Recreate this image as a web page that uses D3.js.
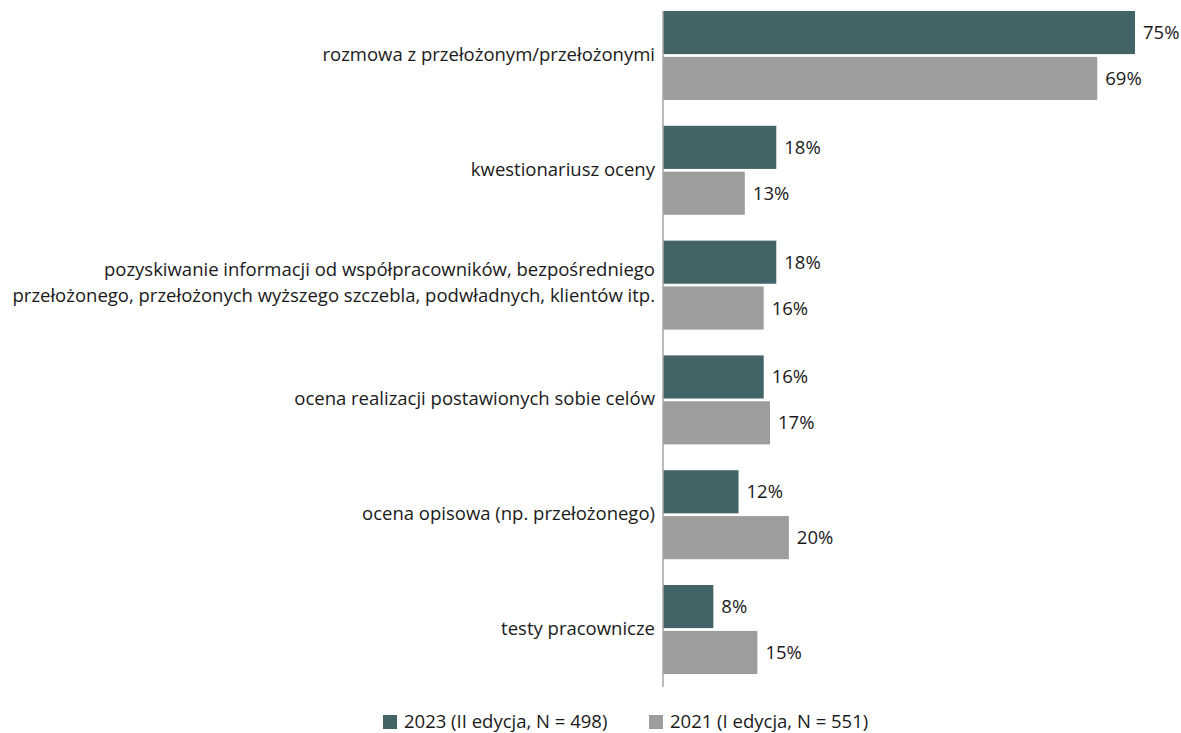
<!DOCTYPE html>
<html>
<head>
<meta charset="utf-8">
<script src="https://cdn.jsdelivr.net/npm/d3@7"></script>
<style>
  body { margin: 0; background: #fff; }
  text { font-family: "Open Sans", sans-serif; fill: #1a1a1a; }
</style>
</head>
<body>
<script>
// Data
const categories = [
  ['rozmowa z przełożonym/przełożonymi'],
  ['kwestionariusz oceny'],
  ['pozyskiwanie informacji od współpracowników, bezpośredniego', 'przełożonego, przełożonych wyższego szczebla, podwładnych, klientów itp.'],
  ['ocena realizacji postawionych sobie celów'],
  ['ocena opisowa (np. przełożonego)'],
  ['testy pracownicze']
]
const seriesNames = ['2023 (II edycja, N = 498)', '2021 (I edycja, N = 551)']
const values2023 = [75, 18, 18, 16, 12, 8]
const values2021 = [69, 13, 16, 17, 20, 15]
const colors = ['#436466', '#9d9d9c']

const width = 1181, height = 733
const fs = 18.5

let svg = d3.select('body')
  .append('svg')
    .attr('width', width)
    .attr('height', height)

// scales
const y = d3.scaleBand()
  .domain(d3.range(categories.length))
  .range([11, 674])
  .paddingInner(0.225)
  .paddingOuter(0)

const ySub = d3.scaleBand()
  .domain([0, 1])
  .range([0, y.bandwidth()])
  .paddingInner(0.06)

const x = d3.scaleLinear()
  .domain([0, 75])
  .range([663, 1135])

const rows = categories.map((c, i) => ({ i, vals: [values2023[i], values2021[i]] }))

const groups = svg.selectAll('g.group')
  .data(rows)
  .enter().append('g')
    .attr('class', 'group')
    .attr('transform', d => `translate(0,${y(d.i)})`)

groups.selectAll('rect')
  .data(d => d.vals.map((v, s) => ({ v, s })))
  .enter().append('rect')
    .attr('x', x(0))
    .attr('y', d => ySub(d.s))
    .attr('width', d => x(d.v) - x(0))
    .attr('height', ySub.bandwidth())
    .attr('fill', d => colors[d.s])

groups.selectAll('text.val')
  .data(d => d.vals.map((v, s) => ({ v, s })))
  .enter().append('text')
    .attr('class', 'val')
    .attr('x', d => x(d.v) + 8)
    .attr('y', d => ySub(d.s) + ySub.bandwidth() / 2)
    .attr('dy', '0.35em')
    .attr('font-size', fs)
    .text(d => d.v + '%')

// category labels
const lab = svg.selectAll('text.cat')
  .data(rows)
  .enter().append('text')
    .attr('class', 'cat')
    .attr('text-anchor', 'end')
    .attr('font-size', fs)
    .attr('y', d => y(d.i) + y.bandwidth() / 2)

lab.selectAll('tspan')
  .data(d => categories[d.i].map((t, k, arr) => ({ t, k, n: arr.length })))
  .enter().append('tspan')
    .attr('x', 655)
    .attr('dy', d => d.k === 0 ? (0.3 - (d.n - 1) * 0.775) + 'em' : '1.4em')
    .text(d => d.t)

// axis line
svg.append('line')
  .attr('x1', x(0)).attr('x2', x(0))
  .attr('y1', 11).attr('y2', 687)
  .attr('stroke', '#a6a6a6')
  .attr('stroke-width', 1.5)

// legend
const legX = [383, 649]
const leg = svg.selectAll('g.leg')
  .data(seriesNames)
  .enter().append('g')
    .attr('class', 'leg')
    .attr('transform', (d, i) => `translate(${legX[i]},715)`)
leg.append('rect')
  .attr('width', 14).attr('height', 14)
  .attr('fill', (d, i) => colors[i])
leg.append('text')
  .attr('x', 21).attr('y', 7).attr('dy', '0.35em')
  .attr('font-size', fs)
  .text(d => d)
</script>
</body>
</html>
